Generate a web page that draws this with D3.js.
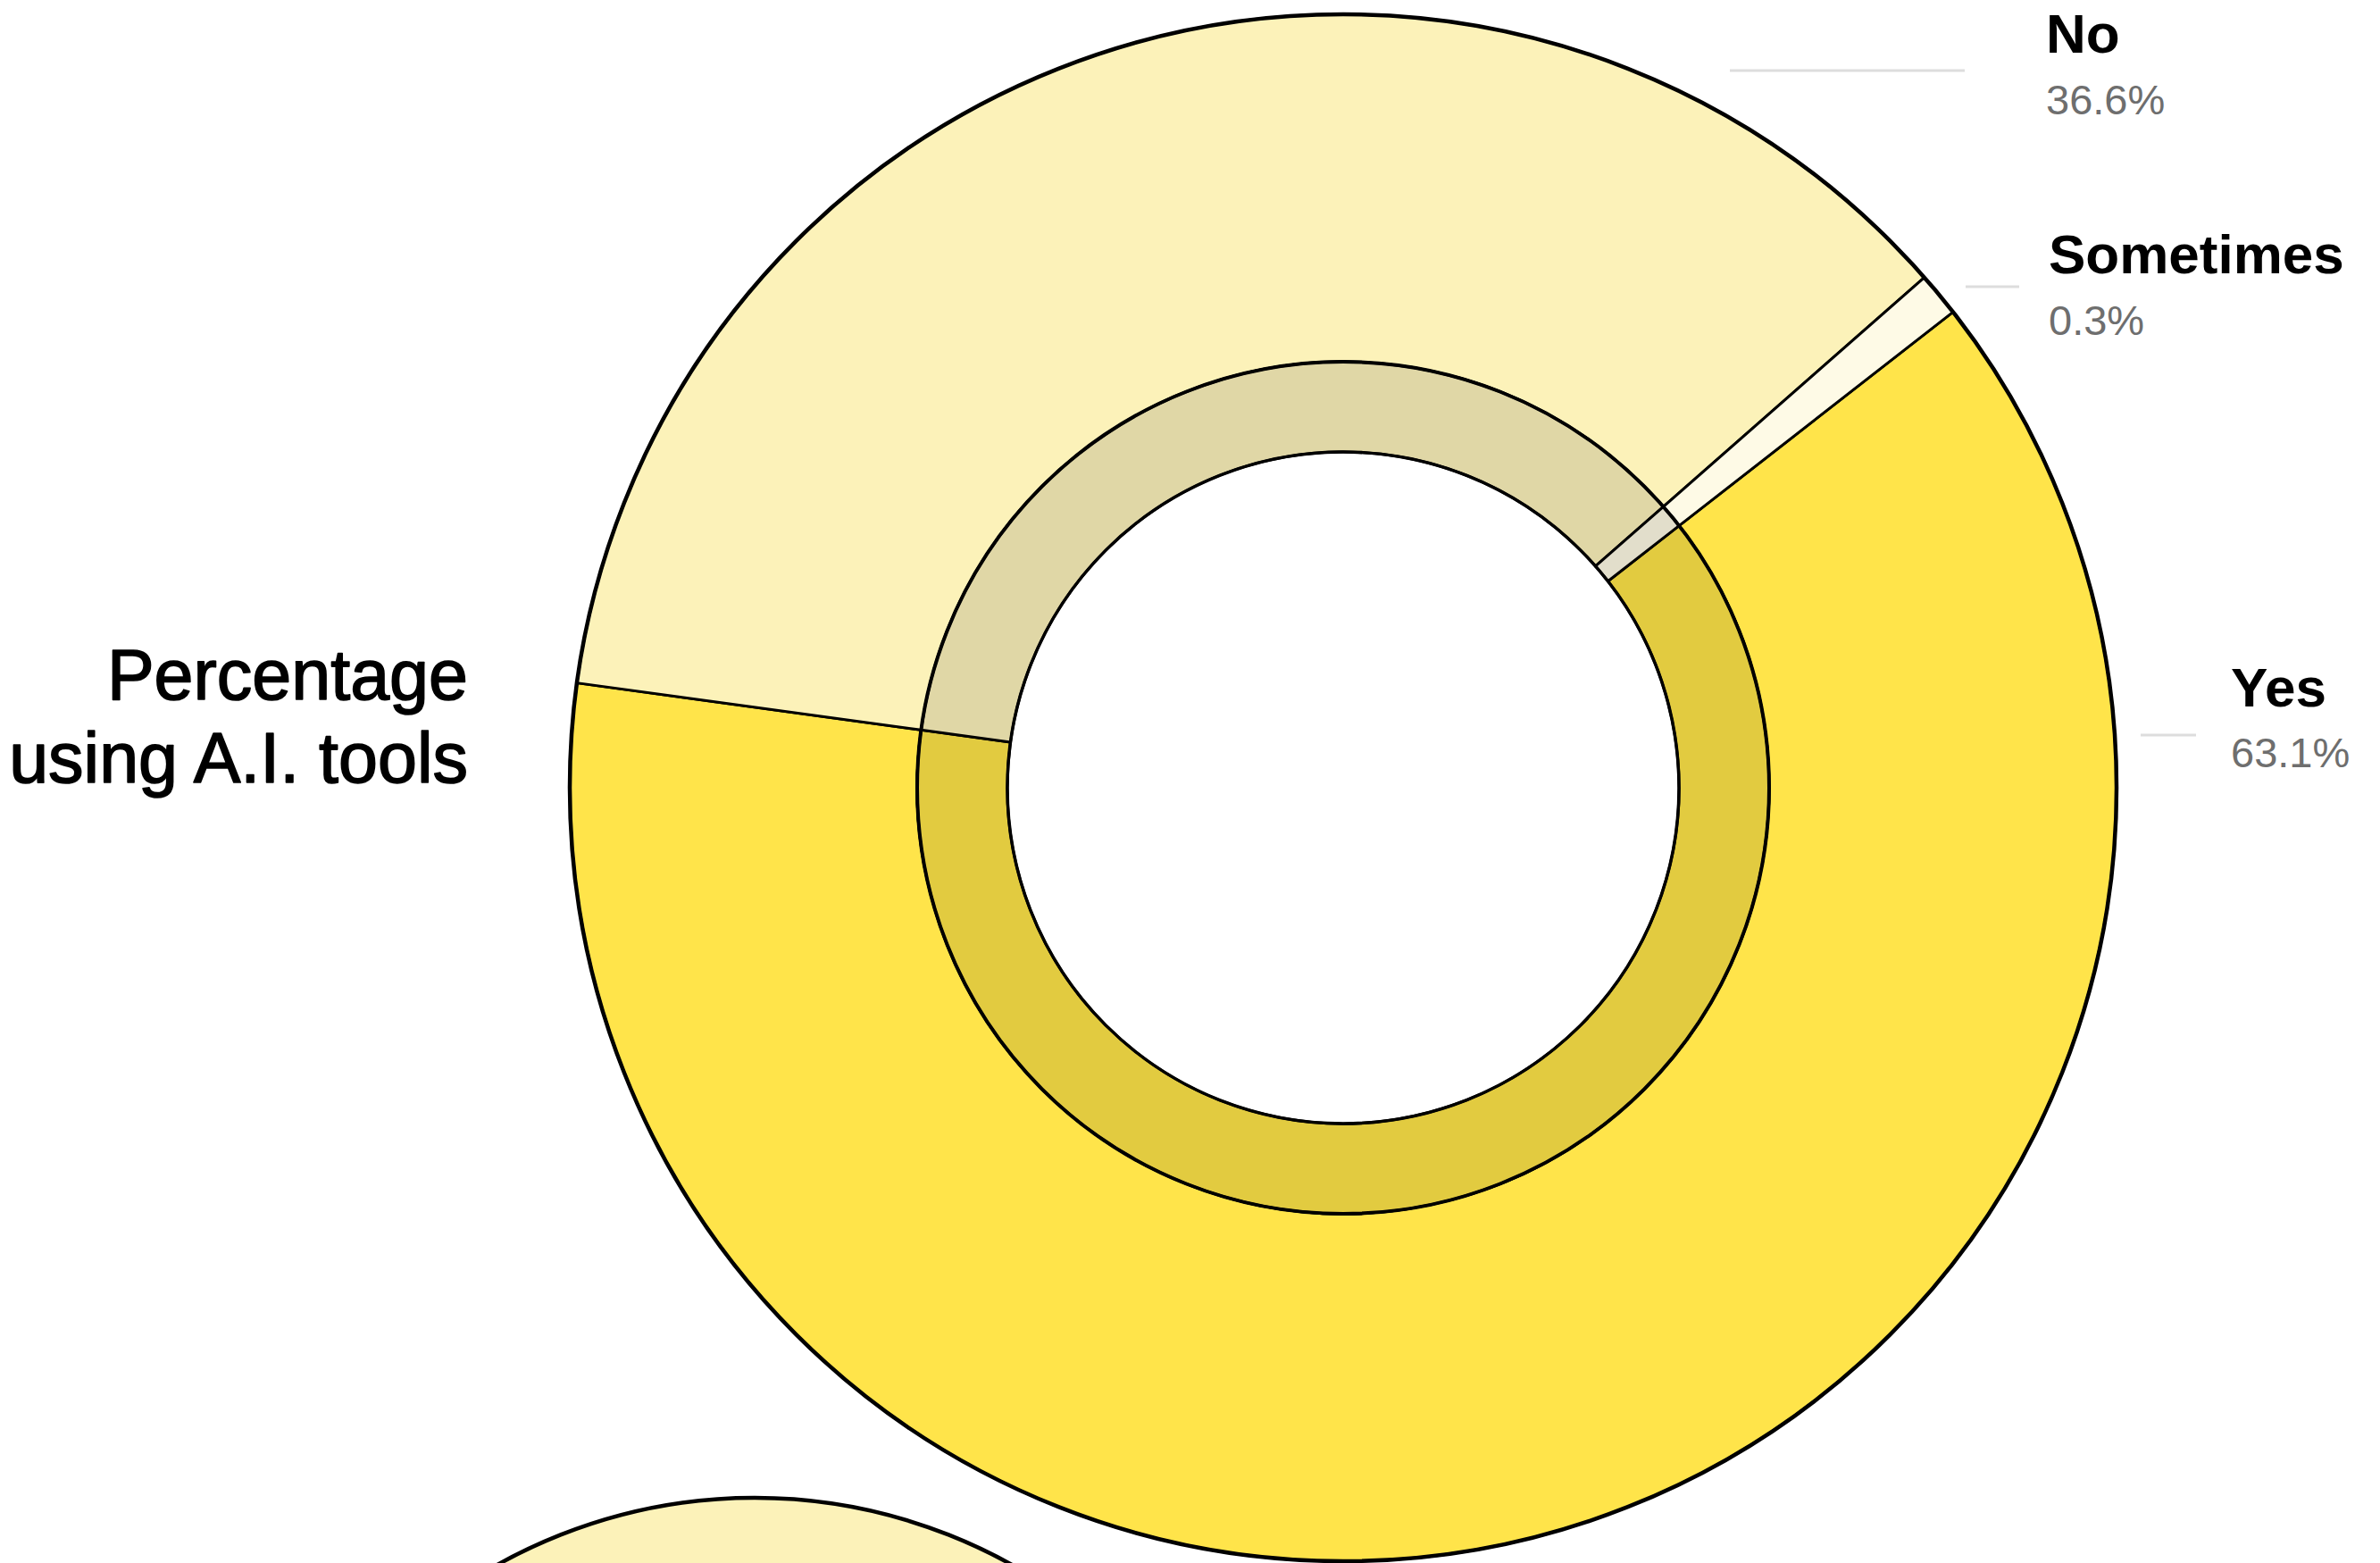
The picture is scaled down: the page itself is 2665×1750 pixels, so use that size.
<!DOCTYPE html>
<html>
<head>
<meta charset="utf-8">
<script src="https://cdn.jsdelivr.net/npm/d3@7"></script>
<style>
  html, body { margin: 0; padding: 0; background: #ffffff; }
  svg { display: block; }
  text { font-family: "Liberation Sans", Arial, Helvetica, sans-serif; }
</style>
</head>
<body>
<svg id="chart" width="2665" height="1750"></svg>
<script>
// Survey answers: share of respondents using A.I. tools
const categories = ["Yes", "No", "Sometimes"];
const shares = [63.1, 36.6, 0.3];
const shareLabels = ["63.1%", "36.6%", "0.3%"];
const title = ["Percentage", "using A.I. tools"];

// Fill per answer: outer band and the darker inner ring
const outerColors = { Yes: "#FFE44A", No: "#FCF2B9", Sometimes: "#FEFAE6" };
const ringColors  = { Yes: "#E2CB40", No: "#E0D7A6", Sometimes: "#E2DECB" };

const W = 2665, H = 1750;
const cx = 1504, cy = 882;
const rOuter = 866, rRing = 477, rHole = 376;
const startDeg = 52.05;          // where the first slice begins (clockwise from 12 o'clock)
const minAngle = 0.058;          // smallest slice still gets a visible wedge

const svg = d3.select("#chart");

// Slice weights: tiny answers are widened to minAngle, the rest share what is left
const total = d3.sum(shares);
const isSmall = shares.map(v => v / total * 2 * Math.PI < minAngle);
const nSmall = isSmall.filter(Boolean).length;
const largeSum = d3.sum(shares.filter((v, i) => !isSmall[i]));
const rest = 2 * Math.PI - nSmall * minAngle;
const slices = categories.map((c, i) => ({
  name: c,
  value: shares[i],
  weight: isSmall[i] ? minAngle : shares[i] / largeSum * rest
}));

const start = startDeg * Math.PI / 180;
const pie = d3.pie()
  .sort(null)
  .value(d => d.weight)
  .startAngle(start)
  .endAngle(start + 2 * Math.PI);
const arcs = pie(slices);

const outerArc = d3.arc().innerRadius(rRing).outerRadius(rOuter);
const ringArc  = d3.arc().innerRadius(rHole).outerRadius(rRing);

// Next chart in the series, peeking in at the bottom edge
svg.append("circle")
  .attr("cx", 845).attr("cy", 1677 + 590).attr("r", 590)
  .attr("fill", outerColors.No)
  .attr("stroke", "#000").attr("stroke-width", 4.5);

const g = svg.append("g").attr("transform", `translate(${cx},${cy})`);

g.selectAll("path.outer")
  .data(arcs)
  .join("path")
  .attr("class", "outer")
  .attr("d", outerArc)
  .attr("fill", d => outerColors[d.data.name])
  .attr("stroke", "#000")
  .attr("stroke-width", 3)
  .attr("stroke-linejoin", "round");

g.selectAll("path.ring")
  .data(arcs)
  .join("path")
  .attr("class", "ring")
  .attr("d", ringArc)
  .attr("fill", d => ringColors[d.data.name])
  .attr("stroke", "#000")
  .attr("stroke-width", 3)
  .attr("stroke-linejoin", "round");

// Heavier rims on the band edges
[[rOuter, 4.5], [rRing, 4], [rHole, 3.5]].forEach(([r, w]) => {
  g.append("circle")
    .attr("r", r)
    .attr("fill", "none")
    .attr("stroke", "#000")
    .attr("stroke-width", w);
});

// Labels with short leader lines on the right
const labelLayout = {
  No:        { lineY: 79,  x1: 1937, x2: 2200, tx: 2291, nameY: 59,  pctY: 128 },
  Sometimes: { lineY: 321, x1: 2201, x2: 2261, tx: 2294, nameY: 306, pctY: 375 },
  Yes:       { lineY: 823, x1: 2397, x2: 2459, tx: 2498, nameY: 791, pctY: 859 }
};

const labels = svg.append("g");
categories.forEach((c, i) => {
  const L = labelLayout[c];
  labels.append("line")
    .attr("x1", L.x1).attr("x2", L.x2)
    .attr("y1", L.lineY).attr("y2", L.lineY)
    .attr("stroke", "#DDDDDD")
    .attr("stroke-width", 3);
  labels.append("text")
    .attr("x", L.tx).attr("y", L.nameY)
    .attr("font-size", 62)
    .attr("font-weight", 700)
    .attr("fill", "#000")
    .text(c);
  labels.append("text")
    .attr("x", L.tx).attr("y", L.pctY)
    .attr("font-size", 47)
    .attr("fill", "#6E6E6E")
    .text(shareLabels[i]);
});

// Chart title, right-aligned beside the donut
svg.append("text")
  .attr("text-anchor", "end")
  .attr("font-size", 79)
  .attr("fill", "#000")
  .attr("stroke", "#000")
  .attr("stroke-width", 1.6)
  .attr("stroke-linejoin", "round")
  .selectAll("tspan")
  .data(title)
  .join("tspan")
  .attr("x", 524)
  .attr("y", (d, i) => 783 + i * 93)
  .text(d => d);
</script>
</body>
</html>
